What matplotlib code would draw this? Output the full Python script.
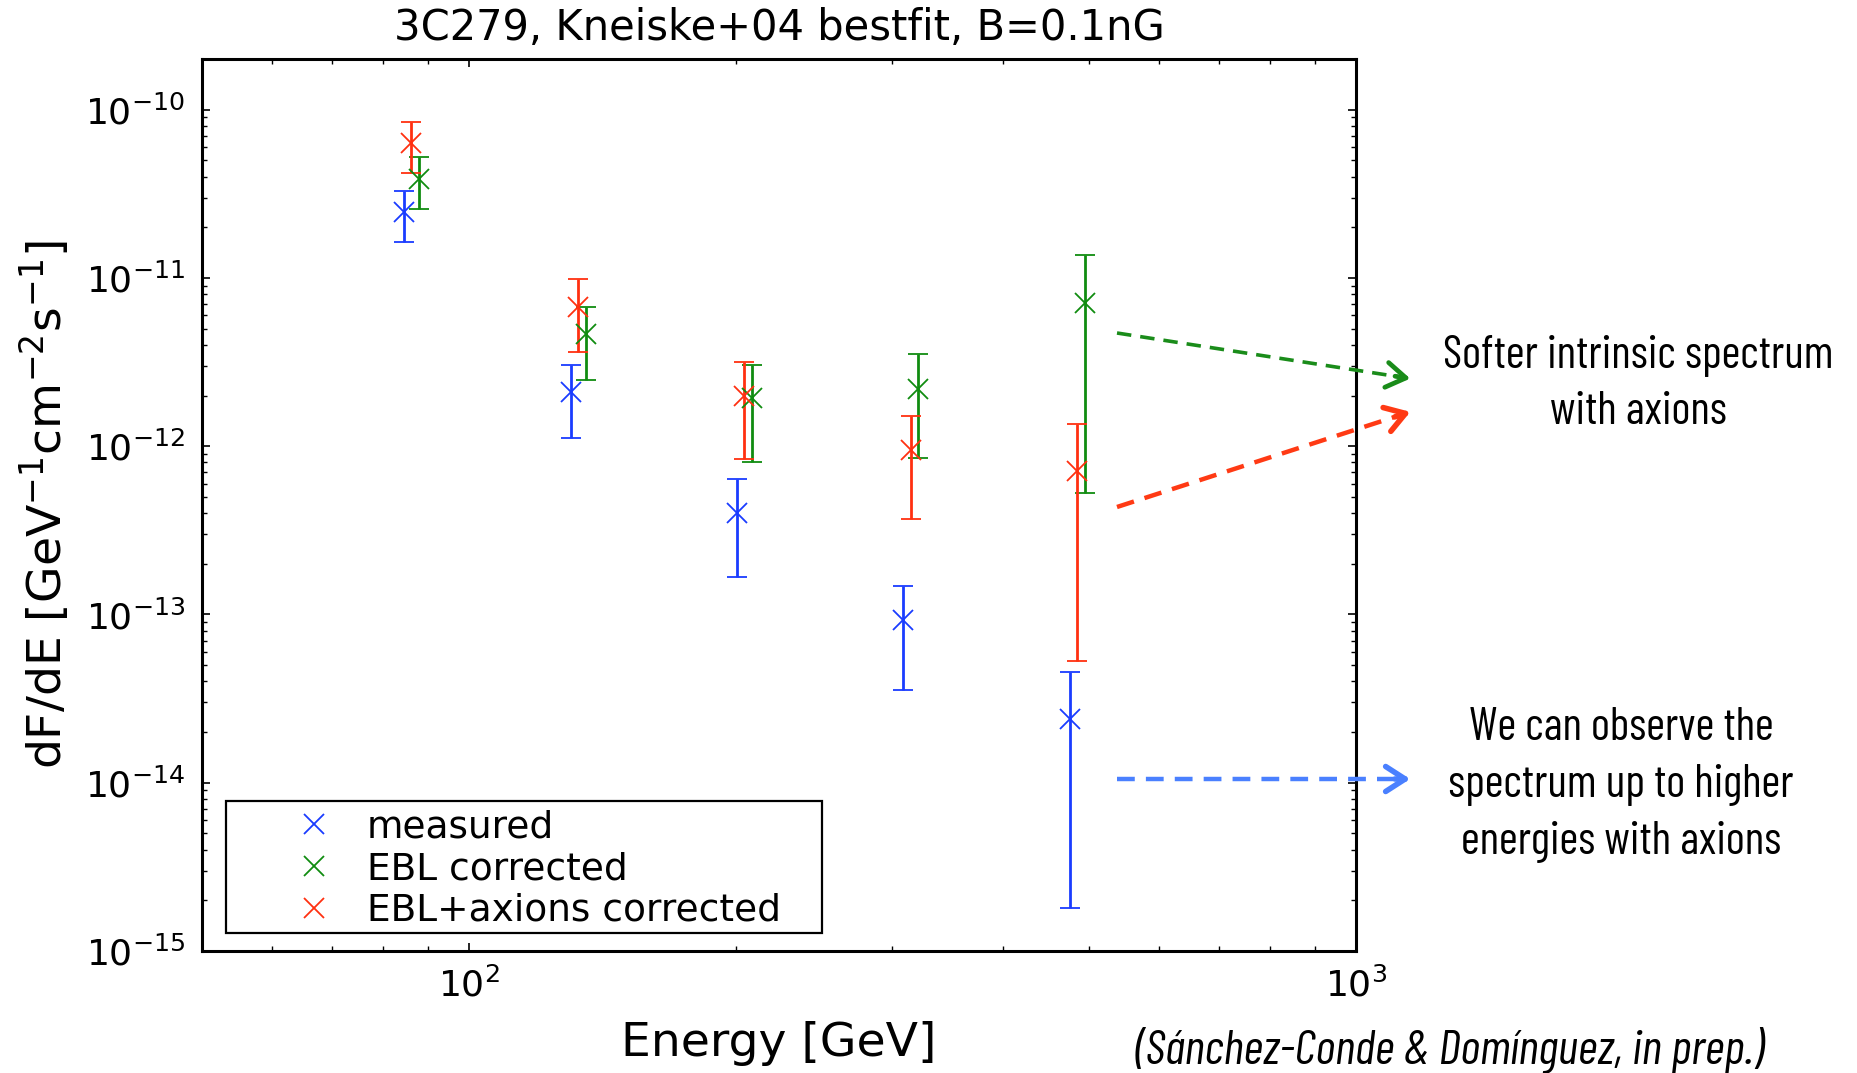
import numpy as np
import matplotlib
matplotlib.use('Agg')
import matplotlib.pyplot as plt
from matplotlib.lines import Line2D
from matplotlib.patches import FancyArrowPatch, Rectangle

# data (energy in GeV, flux in GeV^-1 cm^-2 s^-1)
energy_meas = [84.4, 130.2, 200.5, 308.9, 475.5]
flux_meas = [2.46e-11, 2.09e-12, 4.03e-13, 9.25e-14, 2.39e-14]
meas_hi = [3.30e-11, 3.05e-12, 6.34e-13, 1.47e-13, 4.56e-14]
meas_lo = [1.63e-11, 1.12e-12, 1.67e-13, 3.55e-14, 1.79e-15]

energy_ebl = [87.8, 135.4, 208.4, 321.1, 494.9]
flux_ebl = [3.87e-11, 4.66e-12, 1.94e-12, 2.19e-12, 7.08e-12]
ebl_hi = [5.21e-11, 6.70e-12, 3.05e-12, 3.54e-12, 1.36e-11]
ebl_lo = [2.57e-11, 2.48e-12, 8.1e-13, 8.53e-13, 5.27e-13]

energy_axion = [86.1, 132.7, 204.3, 315.1, 485.2]
flux_axion = [6.31e-11, 6.76e-12, 2.00e-12, 9.53e-13, 7.11e-13]
axion_hi = [8.48e-11, 9.87e-12, 3.15e-12, 1.52e-12, 1.36e-12]
axion_lo = [4.21e-11, 3.61e-12, 8.34e-13, 3.71e-13, 5.27e-14]

labels = ['measured', 'EBL corrected', 'EBL+axions corrected']
colors = ['#1a3cff', '#108c10', '#ff3010']

W, H = 1857, 1073
fig = plt.figure(figsize=(W / 100, H / 100), dpi=100)
ax = fig.add_axes([202 / W, 1 - 951 / H, 1154 / W, 892 / H])


def fx(x):
    return x / W


def fy(y):
    return 1 - y / H


series = [
    (energy_meas, flux_meas, meas_lo, meas_hi),
    (energy_ebl, flux_ebl, ebl_lo, ebl_hi),
    (energy_axion, flux_axion, axion_lo, axion_hi),
]
handles = []
for (e, f, lo, hi), c, lab in zip(series, colors, labels):
    f = np.array(f)
    yerr = [f - np.array(lo), np.array(hi) - f]
    ax.errorbar(e, f, yerr=yerr, fmt='x', color=c, ms=15, mew=1.3,
                elinewidth=2.0, capsize=7, capthick=1.5)
    handles.append(Line2D([], [], ls='none', marker='x', color=c, ms=15, mew=1.3))

ax.set_xscale('log')
ax.set_yscale('log')
ax.set_xlim(50, 1000)
ax.set_ylim(1e-15, 2e-10)

ax.tick_params(which='both', direction='in', top=True, right=True, labelsize=26, pad=12)
ax.tick_params(which='major', length=6, width=1.2)
ax.tick_params(which='minor', length=3.5, width=1.0)
for s in ax.spines.values():
    s.set_linewidth(2.2)

ax.set_xlabel('Energy [GeV]', fontsize=34, labelpad=12)
ax.set_ylabel(r'dF/dE [GeV$^{-1}$cm$^{-2}$s$^{-1}$]', fontsize=34, labelpad=10)
ax.set_title('3C279, Kneiske+04 bestfit, B=0.1nG', fontsize=30, pad=14)

# legend without its own frame, box drawn separately
leg = ax.legend(handles, labels, loc='center left', frameon=False, numpoints=1,
                bbox_to_anchor=(fx(295), fy(869)), bbox_transform=fig.transFigure,
                fontsize=27, borderpad=0, borderaxespad=0, handlelength=1.0,
                handletextpad=0.92, labelspacing=0.15)
fig.add_artist(Rectangle((fx(226), fy(933)), (822 - 226) / W, (933 - 801) / H,
                         transform=fig.transFigure, fill=False, lw=1.6, ec='black'))

# dashed arrows outside the axes
arrows = [
    ((1117, 333), (1413, 379), '#1a8c1a', 2.6),
    ((1117, 507), (1413, 411), '#ff3a14', 3.2),
    ((1117, 779), (1413, 779), '#4a80ff', 3.2),
]
for (x0, y0), (x1, y1), c, lw in arrows:
    fig.add_artist(Line2D([fx(x0), fx(x1 - 6)], [fy(y0), fy(y1 - (y1 - y0) * 6 / (x1 - x0))],
                          transform=fig.transFigure, ls=(0, (4, 2.5)), lw=lw, color=c))
    t = 0.93
    xs, ys = x0 + (x1 - x0) * t, y0 + (y1 - y0) * t
    fig.add_artist(FancyArrowPatch((fx(xs), fy(ys)), (fx(x1), fy(y1)),
                                   transform=fig.transFigure,
                                   arrowstyle='->,head_length=0.7,head_width=0.45',
                                   lw=lw + 0.8, color=c, mutation_scale=20))

note_font = ['Barlow Condensed', 'DejaVu Sans']
fig.text(fx(1638), fy(384), 'Softer intrinsic spectrum\nwith axions', ha='center', va='center',
         fontsize=33, family=note_font, linespacing=1.45)
fig.text(fx(1621), fy(785), 'We can observe the\nspectrum up to higher\nenergies with axions',
         ha='center', va='center', fontsize=33, family=note_font, linespacing=1.45)
fig.text(fx(1449), fy(1050), '(Sánchez-Conde & Domínguez, in prep.)', ha='center', va='center',
         fontsize=35, family=note_font, style='italic')

fig.savefig('out.png', dpi=100, facecolor='white')
